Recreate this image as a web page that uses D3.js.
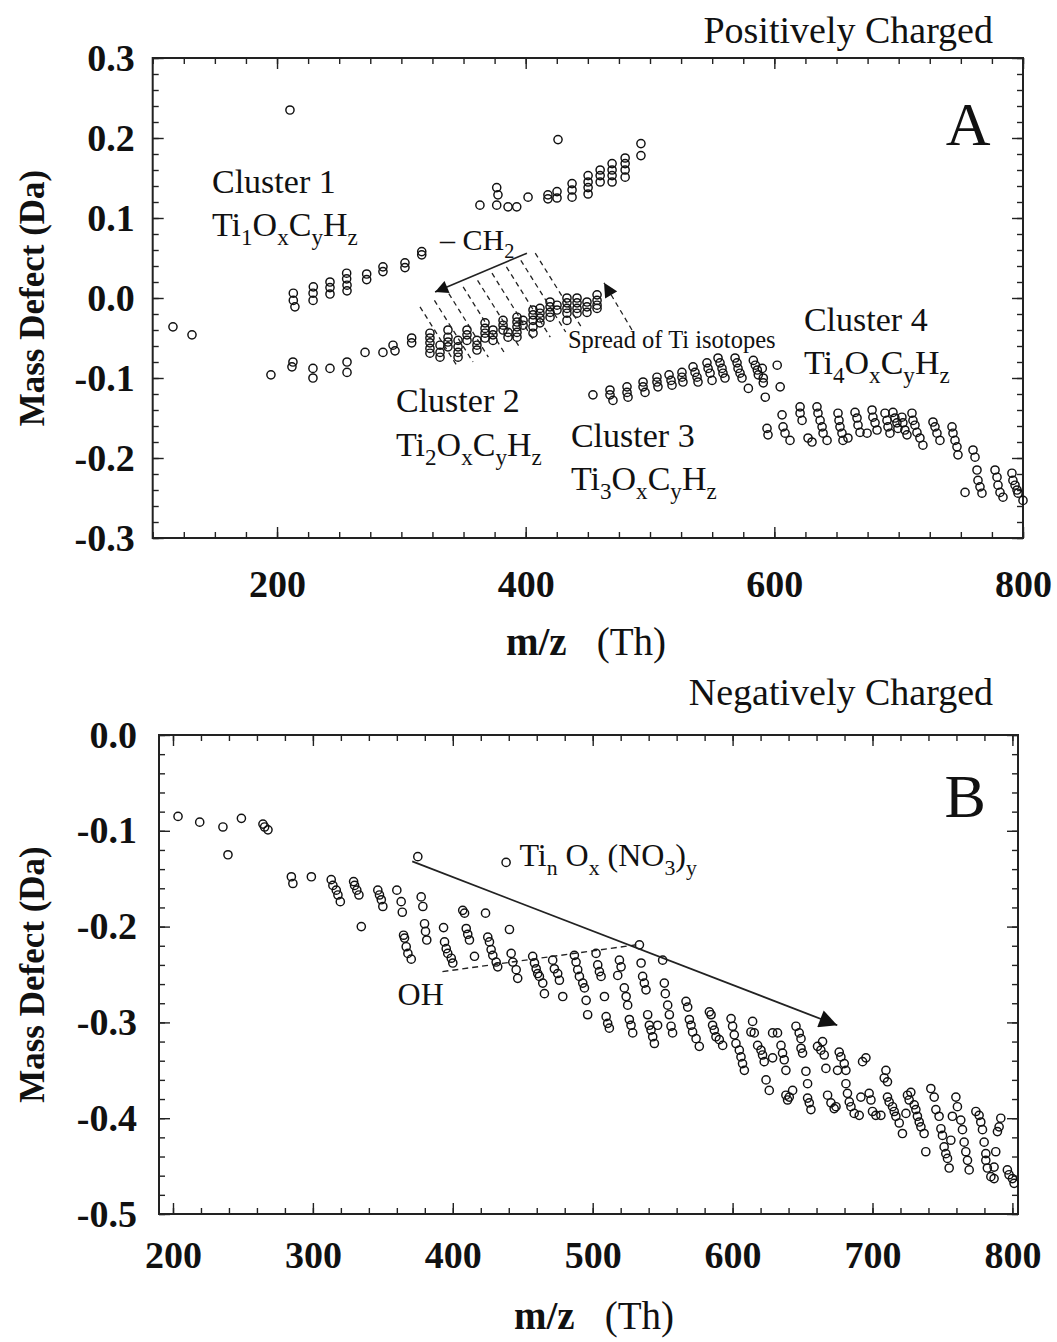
<!DOCTYPE html>
<html>
<head>
<meta charset="utf-8">
<script src="https://cdn.jsdelivr.net/npm/d3@7"></script>
<style>
body { margin: 0; background: #fff; }
svg { display: block; font-family: "Liberation Serif", "Times New Roman", serif; }
.axis .tick text { font-weight: bold; font-size: 38px; fill: #111; font-family: "Liberation Serif", serif; }
.axis line { stroke: #222; stroke-width: 1.4; }
.note { fill: #111; }
</style>
</head>
<body>
<svg width="1057" height="1342"></svg>
<script>
// ---- panel A: positively charged, [m/z, mass defect] ----
const posOther = [[116.3, -0.036], [131.6, -0.046], [210.4, 0.235], [426.0, 0.198]];

const cluster1 = [
	[213.1, 0.006], [213.1, -0.003], [214.4, -0.011],
	[229.2, 0.014], [229.0, 0.006], [229.0, -0.003],
	[242.6, 0.020], [242.6, 0.013], [242.6, 0.005],
	[256.0, 0.031], [256.0, 0.024], [256.3, 0.016], [256.3, 0.009],
	[272.1, 0.030], [272.1, 0.023],
	[285.2, 0.039], [285.2, 0.033],
	[302.9, 0.044], [302.9, 0.038],
	[316.4, 0.058], [316.4, 0.054],
	[363.2, 0.116], [376.7, 0.138], [377.7, 0.129], [376.7, 0.116], [385.8, 0.114], [392.8, 0.114], [401.9, 0.126],
	[417.9, 0.129], [417.9, 0.124], [425.2, 0.133], [425.2, 0.125],
	[437.3, 0.143], [437.3, 0.135], [437.3, 0.126],
	[450.2, 0.153], [450.2, 0.145], [450.2, 0.138], [450.2, 0.130],
	[459.9, 0.160], [459.9, 0.153], [459.9, 0.145],
	[469.5, 0.168], [469.5, 0.160], [469.5, 0.153], [469.5, 0.145],
	[480.0, 0.175], [480.0, 0.168], [480.0, 0.160], [480.0, 0.151],
	[492.7, 0.193], [492.7, 0.178]
];

const cluster2 = [
	[195.1, -0.096], [212.0, -0.086], [212.8, -0.080], [228.9, -0.088], [228.9, -0.100],
	[242.6, -0.088], [256.3, -0.080], [256.3, -0.093], [270.8, -0.068], [285.2, -0.068],
	[293.3, -0.059], [294.9, -0.066], [308.3, -0.050], [308.3, -0.056],
	[323.0, -0.044], [323.0, -0.050], [323.0, -0.056], [323.0, -0.063], [323.0, -0.069],
	[331.1, -0.059], [331.1, -0.068], [331.1, -0.074],
	[337.5, -0.040], [337.5, -0.049], [337.5, -0.055], [337.5, -0.061],
	[345.6, -0.053], [345.6, -0.061], [345.6, -0.068], [345.6, -0.074],
	[352.8, -0.040], [352.8, -0.046], [352.8, -0.053],
	[360.8, -0.053], [360.8, -0.059], [360.8, -0.065],
	[367.3, -0.031], [367.3, -0.038], [367.3, -0.044], [367.3, -0.050],
	[373.7, -0.040], [373.7, -0.046], [373.7, -0.053],
	[381.8, -0.028], [381.8, -0.034], [381.8, -0.040],
	[385.8, -0.043], [385.8, -0.049],
	[393.0, -0.024], [393.0, -0.030], [393.0, -0.036], [393.0, -0.043], [393.0, -0.049],
	[397.9, -0.028], [397.9, -0.034],
	[405.9, -0.015], [405.9, -0.021], [405.9, -0.028], [405.9, -0.036], [405.9, -0.044],
	[411.5, -0.013], [411.5, -0.019], [411.5, -0.025], [411.5, -0.031],
	[419.6, -0.005], [419.6, -0.011], [419.6, -0.018], [419.6, -0.024],
	[425.2, -0.009], [425.2, -0.015],
	[433.2, 0.000], [433.2, -0.006], [433.2, -0.013], [433.2, -0.019], [433.2, -0.028],
	[441.3, 0.000], [441.3, -0.006], [441.3, -0.013], [441.3, -0.019],
	[449.3, -0.005], [449.3, -0.011], [449.3, -0.018],
	[457.4, 0.004], [457.4, -0.003], [457.4, -0.009], [457.4, -0.013]
];

const cluster3 = [
	[454.1, -0.121], [467.8, -0.115], [467.8, -0.121], [470.2, -0.128],
	[481.5, -0.111], [481.5, -0.118], [482.3, -0.124],
	[494.4, -0.105], [494.4, -0.111], [496.0, -0.118],
	[505.6, -0.099], [505.6, -0.105], [506.4, -0.111],
	[515.3, -0.096], [516.9, -0.103], [517.7, -0.109],
	[525.7, -0.093], [525.7, -0.099], [526.5, -0.105],
	[534.6, -0.086], [536.2, -0.093], [537.8, -0.099], [538.6, -0.105],
	[545.8, -0.081], [546.7, -0.088], [548.3, -0.094], [549.9, -0.103],
	[554.7, -0.075], [556.3, -0.081], [557.9, -0.088], [558.7, -0.094], [560.3, -0.100],
	[568.4, -0.075], [570.0, -0.081], [570.8, -0.088], [572.4, -0.094], [574.0, -0.100],
	[583.1, -0.078], [584.7, -0.084], [586.3, -0.090], [587.1, -0.096], [579.1, -0.113],
	[590.3, -0.088], [591.1, -0.100], [591.1, -0.106], [592.7, -0.124],
	[602.3, -0.084], [604.7, -0.111]
];

const cluster4 = [
	[594.1, -0.163], [594.9, -0.171],
	[606.2, -0.146], [607.0, -0.161], [608.6, -0.169], [612.6, -0.178],
	[620.7, -0.136], [620.7, -0.144], [622.3, -0.153], [627.1, -0.175], [630.3, -0.180],
	[634.3, -0.136], [635.1, -0.144], [636.8, -0.153], [638.4, -0.161], [639.2, -0.169], [642.4, -0.178],
	[651.2, -0.144], [652.0, -0.153], [652.8, -0.161], [654.4, -0.169], [655.2, -0.178],
	[664.9, -0.143], [666.5, -0.150], [667.3, -0.159], [668.9, -0.168], [659.2, -0.175],
	[678.6, -0.140], [679.3, -0.149], [681.0, -0.156], [682.6, -0.165], [674.6, -0.169],
	[689.0, -0.144], [690.6, -0.153], [691.4, -0.161], [693.0, -0.169],
	[695.4, -0.143], [697.0, -0.150], [698.6, -0.156], [699.4, -0.163],
	[702.6, -0.149], [703.4, -0.156], [705.0, -0.165], [706.7, -0.171],
	[710.7, -0.144], [711.5, -0.153], [713.1, -0.159], [714.7, -0.168], [717.1, -0.175], [719.5, -0.184],
	[727.6, -0.155], [729.2, -0.161], [730.8, -0.169], [733.2, -0.178],
	[742.9, -0.161], [743.7, -0.169], [745.3, -0.178], [746.9, -0.186], [747.7, -0.196],
	[759.8, -0.190], [761.4, -0.199], [763.0, -0.215], [753.4, -0.243],
	[763.8, -0.228], [765.4, -0.236], [767.0, -0.244],
	[777.5, -0.215], [779.1, -0.224], [779.9, -0.234], [781.5, -0.243], [783.9, -0.249],
	[791.1, -0.219], [791.9, -0.228], [793.6, -0.234], [795.2, -0.240], [796.0, -0.244], [800.0, -0.253]
];

// ---- panel B: negatively charged ----
const negPoints = [
	[203.6, -0.085], [219.1, -0.091], [235.7, -0.096], [248.9, -0.087], [239.3, -0.125],
	[264.3, -0.093], [265.5, -0.096], [267.9, -0.099],
	[284.6, -0.148], [285.7, -0.155], [298.9, -0.148],
	[313.1, -0.151], [314.3, -0.157], [316.7, -0.162], [317.9, -0.167], [319.6, -0.174],
	[329.1, -0.153], [329.8, -0.157], [331.4, -0.162], [332.9, -0.167], [334.6, -0.200],
	[346.4, -0.162], [347.6, -0.167], [348.9, -0.172], [350.0, -0.179],
	[360.0, -0.162], [363.1, -0.174], [363.9, -0.185],
	[364.8, -0.209], [365.5, -0.212], [366.7, -0.221], [367.9, -0.228], [370.3, -0.234],
	[375.0, -0.127], [377.4, -0.169], [378.6, -0.179], [379.8, -0.197], [380.5, -0.205], [381.4, -0.214],
	[393.4, -0.201], [394.1, -0.216], [395.3, -0.223], [396.4, -0.228], [398.9, -0.233], [400.0, -0.238],
	[407.1, -0.183], [408.4, -0.186], [409.6, -0.202], [410.7, -0.208], [411.9, -0.214], [415.5, -0.231],
	[423.4, -0.186], [425.0, -0.211], [426.2, -0.216], [427.4, -0.224], [428.6, -0.230], [431.0, -0.237], [432.1, -0.242],
	[438.1, -0.133], [440.5, -0.203], [441.7, -0.228], [442.9, -0.237], [445.3, -0.245], [446.4, -0.254],
	[457.1, -0.231], [458.4, -0.238], [459.6, -0.244], [460.7, -0.249], [461.9, -0.252], [464.3, -0.259], [465.5, -0.270],
	[471.4, -0.235], [472.6, -0.244], [475.0, -0.249], [476.2, -0.256], [478.6, -0.273],
	[486.9, -0.230], [488.1, -0.237], [489.3, -0.245], [490.5, -0.252], [492.9, -0.259], [494.1, -0.264], [495.3, -0.277], [496.4, -0.292],
	[502.4, -0.228], [503.6, -0.240], [504.8, -0.247], [506.0, -0.252], [508.4, -0.273],
	[509.6, -0.294], [510.7, -0.301], [511.9, -0.306],
	[519.1, -0.235], [520.3, -0.242], [517.9, -0.251],
	[522.6, -0.264], [523.9, -0.273], [525.0, -0.282], [526.2, -0.297], [527.4, -0.303], [528.6, -0.311],
	[533.4, -0.219], [534.6, -0.238], [535.7, -0.252], [536.9, -0.259], [538.1, -0.266],
	[539.3, -0.292], [540.5, -0.303], [541.7, -0.308], [542.9, -0.315], [544.1, -0.322], [546.4, -0.303],
	[550.0, -0.235], [551.2, -0.259], [551.9, -0.270], [553.6, -0.282], [554.8, -0.292], [556.0, -0.304], [557.1, -0.311],
	[566.7, -0.278], [567.9, -0.284], [569.1, -0.297], [570.3, -0.303], [571.4, -0.310], [573.9, -0.317], [576.2, -0.325],
	[583.4, -0.289], [584.6, -0.292], [585.7, -0.303], [586.9, -0.308], [588.1, -0.315], [590.5, -0.318], [592.9, -0.324],
	[598.9, -0.296], [600.0, -0.304], [601.2, -0.313], [602.4, -0.322], [604.8, -0.329], [606.0, -0.336], [607.1, -0.343], [608.4, -0.350],
	[614.3, -0.299], [613.1, -0.310], [615.5, -0.311], [617.9, -0.324], [620.3, -0.329], [621.4, -0.334], [622.6, -0.341],
	[623.9, -0.360], [626.2, -0.371], [628.6, -0.337],
	[628.6, -0.311], [632.1, -0.311], [634.6, -0.324], [635.7, -0.332], [636.9, -0.339], [638.1, -0.350],
	[638.1, -0.376], [640.5, -0.378], [642.9, -0.371], [639.3, -0.381],
	[645.3, -0.304], [647.6, -0.311], [648.9, -0.317], [648.9, -0.327], [650.0, -0.332],
	[652.4, -0.351], [653.6, -0.364], [653.6, -0.379], [654.8, -0.384], [656.0, -0.391],
	[660.7, -0.325], [663.1, -0.329], [665.5, -0.334], [664.3, -0.320], [666.7, -0.348],
	[667.9, -0.376], [670.3, -0.384], [672.6, -0.390], [673.9, -0.388],
	[676.2, -0.331], [677.4, -0.336], [679.8, -0.343], [675.0, -0.350], [681.0, -0.350],
	[681.0, -0.364], [682.1, -0.374], [683.4, -0.383], [684.6, -0.388], [686.9, -0.395], [690.5, -0.397],
	[692.9, -0.341], [695.3, -0.337], [691.7, -0.378], [697.6, -0.374], [698.9, -0.381],
	[700.0, -0.393], [702.4, -0.397], [706.0, -0.397],
	[709.6, -0.350], [708.4, -0.358], [710.7, -0.362],
	[710.7, -0.378], [711.9, -0.383], [714.3, -0.388], [715.5, -0.393], [716.7, -0.398], [719.1, -0.405], [721.4, -0.416],
	[723.9, -0.395], [725.0, -0.376], [727.4, -0.373], [726.2, -0.381],
	[729.8, -0.386], [731.0, -0.391], [732.1, -0.398], [733.4, -0.404], [734.6, -0.409], [736.9, -0.416], [738.1, -0.435],
	[741.7, -0.369], [744.1, -0.378], [745.3, -0.391], [747.6, -0.398], [748.9, -0.411], [750.0, -0.418],
	[751.2, -0.430], [752.4, -0.437], [753.6, -0.442], [754.8, -0.452], [756.0, -0.423],
	[757.1, -0.398], [759.6, -0.378], [760.7, -0.388], [763.1, -0.402], [764.3, -0.412],
	[765.5, -0.425], [766.7, -0.435], [767.9, -0.444], [769.1, -0.454],
	[773.9, -0.393], [776.2, -0.397], [777.4, -0.404], [778.6, -0.412], [779.8, -0.425],
	[781.0, -0.437], [781.0, -0.444], [782.1, -0.452], [784.6, -0.461], [786.9, -0.463],
	[788.1, -0.435], [789.3, -0.414], [790.5, -0.409], [791.7, -0.400], [786.9, -0.451],
	[796.4, -0.454], [797.6, -0.459], [800.0, -0.463], [801.2, -0.468]
];

// ---- tick labels ----
const posXTicks = [200, 400, 600, 800];
const posYTicks = [-0.3, -0.2, -0.1, 0, 0.1, 0.2, 0.3];
const negXTicks = [200, 300, 400, 500, 600, 700, 800];
const negYTicks = [-0.5, -0.4, -0.3, -0.2, -0.1, 0];

// ---- annotation guides ----
const ch2Arrow = [[401.0, 0.056], [327.1, 0.0075]];
const isotopeGuides = [
	[[315.0, -0.011], [345.2, -0.086]],
	[[326.6, -0.003], [357.6, -0.080]],
	[[338.2, 0.0055], [370.0, -0.074]],
	[[349.7, 0.014], [382.5, -0.0675]],
	[[361.3, 0.022], [394.9, -0.061]],
	[[372.9, 0.031], [407.3, -0.055]],
	[[384.5, 0.039], [419.8, -0.049]],
	[[396.1, 0.047], [432.2, -0.0425]],
	[[407.7, 0.056], [444.6, -0.036]]
];
const isotopeArrow = [[485.5, -0.040], [463.0, 0.019]];
const nitrateArrow = [[371.0, -0.132], [674.8, -0.303]];
const ohGuide = [[392.6, -0.247], [531.2, -0.219]];

const svg = d3.select("svg");
// hyphen minus like the original labels
const fmt = d => d3.format(".1f")(d).replace("\u2212", "-");

const defs = svg.append("defs");
function addHead(id, w, h) {
	defs.append("marker")
		.attr("id", id)
		.attr("viewBox", "0 0 10 10")
		.attr("refX", 10).attr("refY", 5)
		.attr("markerUnits", "userSpaceOnUse")
		.attr("markerWidth", w).attr("markerHeight", h)
		.attr("orient", "auto")
		.append("path")
		.attr("d", "M0,0 L10,5 L0,10 Z")
		.attr("fill", "#111");
}
addHead("headSmall", 17, 13);
addHead("headBig", 24, 18);
addHead("headIso", 16, 14);

function drawPanel(cfg) {
	const x = d3.scaleLinear().domain(cfg.xDomain).range([cfg.left, cfg.right]);
	const y = d3.scaleLinear().domain(cfg.yDomain).range([cfg.bottom, cfg.top]);
	const g = svg.append("g");

	const minorLen = 6, majorLen = 11;
	const noDomain = sel => sel.select(".domain").remove();

	// inward ticks on all four sides
	g.append("g").attr("class", "axis").attr("transform", "translate(0," + cfg.bottom + ")")
		.call(d3.axisBottom(x).tickValues(cfg.xMinor).tickSize(-minorLen).tickFormat("")).call(noDomain);
	g.append("g").attr("class", "axis").attr("transform", "translate(0," + cfg.bottom + ")")
		.call(d3.axisBottom(x).tickValues(cfg.xTicks).tickSize(-majorLen).tickPadding(cfg.xPad).tickFormat(d3.format("d"))).call(noDomain);
	g.append("g").attr("class", "axis").attr("transform", "translate(0," + cfg.top + ")")
		.call(d3.axisTop(x).tickValues(cfg.xMinor).tickSize(-minorLen).tickFormat("")).call(noDomain);
	g.append("g").attr("class", "axis").attr("transform", "translate(0," + cfg.top + ")")
		.call(d3.axisTop(x).tickValues(cfg.xTicks).tickSize(-majorLen).tickFormat("")).call(noDomain);

	g.append("g").attr("class", "axis").attr("transform", "translate(" + cfg.left + ",0)")
		.call(d3.axisLeft(y).tickValues(cfg.yMinor).tickSize(-minorLen).tickFormat("")).call(noDomain);
	g.append("g").attr("class", "axis").attr("transform", "translate(" + cfg.left + ",0)")
		.call(d3.axisLeft(y).tickValues(cfg.yTicks).tickSize(-majorLen).tickPadding(cfg.yPad).tickFormat(fmt)).call(noDomain);
	g.append("g").attr("class", "axis").attr("transform", "translate(" + cfg.right + ",0)")
		.call(d3.axisRight(y).tickValues(cfg.yMinor).tickSize(-minorLen).tickFormat("")).call(noDomain);
	g.append("g").attr("class", "axis").attr("transform", "translate(" + cfg.right + ",0)")
		.call(d3.axisRight(y).tickValues(cfg.yTicks).tickSize(-majorLen).tickFormat("")).call(noDomain);

	g.append("rect")
		.attr("x", cfg.left).attr("y", cfg.top)
		.attr("width", cfg.right - cfg.left).attr("height", cfg.bottom - cfg.top)
		.attr("fill", "none").attr("stroke", "#222").attr("stroke-width", 2);

	cfg.series.forEach(points => {
		g.append("g").selectAll("circle")
			.data(points)
			.join("circle")
			.attr("cx", d => x(d[0]))
			.attr("cy", d => y(d[1]))
			.attr("r", 4.1)
			.attr("fill", "none")
			.attr("stroke", "#111")
			.attr("stroke-width", 1.45);
	});

	// axis titles
	g.append("text")
		.attr("transform", "translate(44," + ((cfg.top + cfg.bottom) / 2) + ") rotate(-90)")
		.attr("text-anchor", "middle")
		.attr("font-size", 35).attr("font-weight", "bold").attr("class", "note")
		.text("Mass Defect (Da)");

	const xt = g.append("text")
		.attr("x", cfg.xTitleX).attr("y", cfg.xTitleY)
		.attr("text-anchor", "middle").attr("font-size", 39).attr("class", "note");
	xt.append("tspan").attr("font-weight", "bold").text("m/z");
	xt.append("tspan").attr("dx", 30).text("(Th)");

	g.append("text")
		.attr("x", 993).attr("y", cfg.titleY)
		.attr("text-anchor", "end").attr("font-size", 38).attr("class", "note")
		.text(cfg.title);

	return { g, x, y };
}

function richText(g, px, py, parts, size) {
	const t = g.append("text").attr("x", px).attr("y", py)
		.attr("font-size", size).attr("class", "note");
	let shift = 0;
	parts.forEach(([s, sub]) => {
		const target = sub ? size * 0.27 : 0;
		t.append("tspan")
			.attr("dy", target - shift)
			.attr("font-size", sub ? size * 0.68 : size)
			.text(s);
		shift = target;
	});
	return t;
}

function guide(g, x, y, pts, dash, head, width) {
	const l = g.append("line")
		.attr("x1", x(pts[0][0])).attr("y1", y(pts[0][1]))
		.attr("x2", x(pts[1][0])).attr("y2", y(pts[1][1]))
		.attr("stroke", "#222").attr("stroke-width", width || 1.5);
	if (dash) l.attr("stroke-dasharray", dash);
	if (head) l.attr("marker-end", "url(#" + head + ")");
}

// ---- panel A ----
const A = drawPanel({
	left: 152.7, right: 1023, top: 58, bottom: 538,
	xDomain: [100, 800], yDomain: [-0.3, 0.3],
	xTicks: posXTicks, xMinor: d3.range(100, 801, 25),
	yTicks: posYTicks, yMinor: d3.range(-15, 16).map(i => i * 0.02),
	xPad: 32, yPad: 18,
	series: [posOther, cluster1, cluster2, cluster3, cluster4],
	xTitleX: 586, xTitleY: 655,
	title: "Positively Charged", titleY: 43
});

isotopeGuides.forEach(p => guide(A.g, A.x, A.y, p, "5,4", null, 1.3));
guide(A.g, A.x, A.y, ch2Arrow, null, "headSmall", 1.6);
guide(A.g, A.x, A.y, isotopeArrow, "5,4", "headIso", 1.3);

richText(A.g, A.x(147.7), A.y(0.131), [["Cluster 1", false]], 34);
richText(A.g, A.x(147.7), A.y(0.0775), [["Ti", false], ["1", true], ["O", false], ["x", true], ["C", false], ["y", true], ["H", false], ["z", true]], 34);
richText(A.g, A.x(295.7), A.y(-0.1425), [["Cluster 2", false]], 34);
richText(A.g, A.x(295.7), A.y(-0.1975), [["Ti", false], ["2", true], ["O", false], ["x", true], ["C", false], ["y", true], ["H", false], ["z", true]], 34);
richText(A.g, A.x(436.4), A.y(-0.186), [["Cluster 3", false]], 34);
richText(A.g, A.x(436.4), A.y(-0.24), [["Ti", false], ["3", true], ["O", false], ["x", true], ["C", false], ["y", true], ["H", false], ["z", true]], 34);
richText(A.g, A.x(623.8), A.y(-0.041), [["Cluster 4", false]], 34);
richText(A.g, A.x(623.8), A.y(-0.095), [["Ti", false], ["4", true], ["O", false], ["x", true], ["C", false], ["y", true], ["H", false], ["z", true]], 34);
richText(A.g, A.x(331.1), A.y(0.06), [["\u2013 CH", false], ["2", true]], 30);
richText(A.g, A.x(434.0), A.y(-0.0625), [["Spread of Ti isotopes", false]], 24.5);
A.g.append("text").attr("x", A.x(755.8)).attr("y", A.y(0.191))
	.attr("text-anchor", "middle").attr("font-size", 62).attr("class", "note").text("A");

// ---- panel B ----
const B = drawPanel({
	left: 159, right: 1018, top: 735, bottom: 1214,
	xDomain: [190, 804], yDomain: [-0.5, 0],
	xTicks: negXTicks, xMinor: d3.range(200, 801, 20),
	yTicks: negYTicks, yMinor: d3.range(-25, 1).map(i => i * 0.02),
	xPad: 27, yPad: 22,
	series: [negPoints],
	xTitleX: 594, xTitleY: 1329,
	title: "Negatively Charged", titleY: 705
});

guide(B.g, B.x, B.y, nitrateArrow, null, "headBig", 1.8);
guide(B.g, B.x, B.y, ohGuide, "6,4", null, 1.4);
richText(B.g, B.x(447.6), B.y(-0.137), [["Ti", false], ["n", true], [" O", false], ["x", true], [" (NO", false], ["3", true], [")", false], ["y", true]], 32);
richText(B.g, B.x(360.5), B.y(-0.282), [["OH", false]], 32);
B.g.append("text").attr("x", B.x(766.2)).attr("y", B.y(-0.0856))
	.attr("text-anchor", "middle").attr("font-size", 62).attr("class", "note").text("B");
</script>
</body>
</html>
